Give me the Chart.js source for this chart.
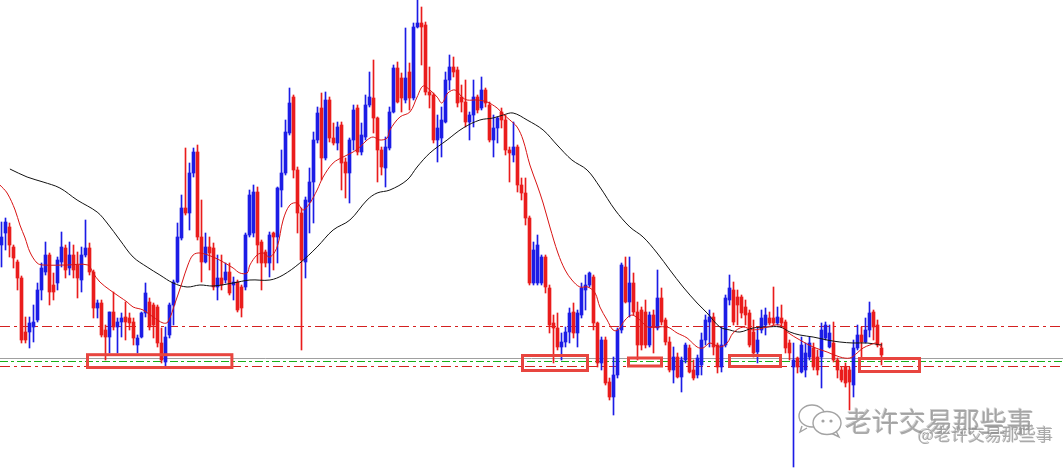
<!DOCTYPE html>
<html lang="zh">
<head>
<meta charset="UTF-8">
<title>K线图</title>
<script src="https://cdn.jsdelivr.net/npm/chart.js"></script>
<style>
    html, body { margin: 0; padding: 0; background: #fff; }
    .chart-box { position: relative; width: 1063px; height: 468px; overflow: hidden; }
    .mark {
        position: absolute;
        font-family: "Noto Sans CJK SC", sans-serif;
        line-height: 1;
        white-space: nowrap;
        color: rgba(150, 150, 150, 0.8);
        text-shadow: 1px 1px 0 rgba(255, 255, 255, 0.9), -1px -1px 0 rgba(120, 120, 120, 0.35);
    }
    .mark.big { left: 845px; top: 407px; font-size: 27px; }
    .mark.small { left: 918px; top: 425px; font-size: 17px; }
    .wx { position: absolute; left: 798px; top: 402px; }
</style>
</head>
<body>
<div class="chart-box">
    <canvas id="kline"></canvas>
    <svg class="wx" width="46" height="38" viewBox="0 0 46 38">
        <g fill="#fff" stroke="#a3a3a3" stroke-width="1.4">
            <path d="M4 24 L2 30 L9 26"/>
            <ellipse cx="14" cy="14" rx="13" ry="11"/>
            <path d="M38 29 L41 35 L33 31"/>
            <ellipse cx="29" cy="21" rx="14" ry="11.5"/>
        </g>
        <g fill="#a3a3a3">
            <circle cx="25" cy="19" r="1.6"/>
            <circle cx="33" cy="19" r="1.6"/>
        </g>
    </svg>
    <div class="mark big">老许交易那些事</div>
    <div class="mark small">@老许交易那些事</div>
</div>
<script>
// candles, one per bar, oldest first
const open = [
    223, 235, 241, 221, 206, 190, 136, 136, 141, 148,
    178, 196, 213, 183, 185, 206, 220, 200, 213, 203,
    188, 213, 220, 196, 160, 165, 138, 131, 156, 141,
    146, 151, 150, 146, 123, 131, 155, 166, 163, 161,
    125, 106, 133, 163, 186, 230, 260, 255, 295, 316,
    231, 206, 221, 220, 181, 190, 188, 196, 183, 186,
    181, 181, 233, 235, 276, 226, 216, 205, 235, 231,
    278, 295, 335, 371, 298, 255, 206, 266, 286, 328,
    360, 310, 368, 330, 325, 343, 306, 295, 328, 360,
    316, 331, 363, 370, 350, 318, 300, 320, 356, 400,
    390, 368, 396, 370, 441, 445, 443, 376, 373, 328,
    330, 346, 388, 401, 398, 371, 366, 346, 353, 371,
    360, 378, 363, 328, 340, 356, 348, 318, 313, 321,
    283, 275, 250, 185, 185, 185, 211, 180, 145, 140,
    121, 126, 136, 156, 135, 153, 178, 183, 191, 145,
    105, 128, 86, 71, 93, 138, 201, 166, 185, 156,
    158, 156, 123, 153, 140, 170, 148, 126, 98, 111,
    91, 108, 120, 98, 93, 103, 128, 146, 151, 123,
    101, 123, 168, 178, 171, 171, 161, 155, 136, 116,
    138, 143, 150, 150, 145, 150, 146, 125, 101, 110,
    96, 98, 111, 120, 111, 111, 130, 121, 125, 108,
    98, 101, 98, 83, 120, 133, 126, 138, 156, 143,
    120
];
const high = [
    246, 250, 245, 223, 208, 192, 151, 151, 163, 185,
    205, 226, 215, 195, 211, 236, 223, 226, 223, 216,
    221, 248, 225, 198, 168, 168, 143, 156, 176, 150,
    155, 166, 155, 150, 133, 156, 185, 170, 165, 163,
    140, 141, 165, 188, 245, 273, 320, 305, 320, 323,
    268, 235, 231, 225, 213, 213, 205, 205, 191, 188,
    183, 235, 278, 283, 281, 228, 218, 236, 236, 281,
    318, 348, 380, 373, 301, 260, 271, 300, 336, 361,
    375, 376, 371, 345, 346, 346, 310, 330, 363, 363,
    345, 373, 396, 408, 351, 321, 331, 361, 403, 406,
    395, 440, 405, 445, 468, 461, 446, 401, 375, 353,
    361, 396, 413, 411, 401, 383, 388, 356, 388, 373,
    391, 380, 366, 353, 351, 360, 353, 321, 346, 323,
    290, 290, 252, 226, 233, 213, 213, 183, 153, 155,
    135, 141, 160, 165, 158, 185, 193, 196, 193, 146,
    131, 131, 90, 111, 140, 205, 211, 211, 195, 166,
    161, 168, 156, 158, 198, 180, 150, 131, 121, 115,
    111, 125, 123, 108, 113, 135, 153, 158, 155, 125,
    141, 173, 193, 186, 178, 173, 168, 158, 148, 140,
    158, 160, 156, 181, 161, 163, 148, 128, 125, 111,
    131, 125, 131, 125, 118, 145, 146, 143, 146, 110,
    101, 105, 101, 128, 143, 141, 150, 166, 158, 148,
    125
];
const low = [
    201, 218, 211, 200, 178, 125, 125, 120, 126, 146,
    168, 193, 163, 168, 178, 201, 190, 193, 190, 170,
    176, 211, 193, 150, 150, 131, 108, 115, 138, 115,
    131, 128, 138, 123, 115, 130, 151, 138, 130, 121,
    105, 100, 130, 143, 185, 228, 253, 238, 291, 228,
    186, 205, 198, 178, 168, 178, 185, 173, 168, 156,
    151, 178, 231, 231, 205, 178, 201, 191, 198, 205,
    261, 293, 333, 290, 235, 118, 190, 235, 245, 325,
    288, 308, 326, 323, 318, 278, 270, 265, 318, 313,
    313, 328, 361, 335, 286, 293, 281, 318, 355, 365,
    356, 365, 358, 368, 440, 403, 373, 360, 325, 306,
    311, 345, 378, 391, 361, 356, 341, 328, 341, 355,
    358, 361, 326, 311, 325, 340, 313, 286, 306, 276,
    268, 243, 183, 183, 183, 183, 175, 135, 105, 118,
    108, 121, 125, 130, 121, 150, 158, 181, 138, 101,
    98, 83, 68, 53, 90, 135, 165, 151, 153, 108,
    118, 120, 121, 115, 138, 143, 123, 96, 85, 90,
    76, 105, 95, 88, 90, 93, 123, 121, 113, 95,
    96, 121, 163, 143, 143, 150, 143, 121, 111, 105,
    135, 133, 143, 143, 143, 141, 115, 108, 1, 95,
    95, 91, 108, 98, 93, 80, 128, 120, 106, 90,
    86, 81, 58, 71, 118, 110, 125, 131, 128, 121,
    103
];
const close = [
    231, 246, 223, 210, 190, 128, 128, 145, 146, 178,
    200, 213, 176, 176, 208, 221, 198, 213, 198, 190,
    213, 220, 196, 160, 165, 133, 131, 156, 141, 146,
    150, 146, 145, 130, 130, 155, 175, 141, 143, 125,
    108, 131, 163, 186, 231, 260, 255, 295, 316, 231,
    206, 221, 215, 181, 190, 183, 196, 175, 186, 158,
    160, 233, 273, 276, 223, 205, 205, 233, 231, 280,
    295, 336, 365, 298, 255, 208, 268, 286, 328, 355,
    310, 368, 330, 325, 341, 305, 295, 328, 358, 316,
    333, 363, 371, 350, 318, 301, 321, 356, 400, 366,
    370, 390, 370, 441, 445, 441, 376, 373, 328, 340,
    348, 388, 401, 396, 365, 366, 346, 353, 371, 358,
    378, 365, 328, 340, 350, 348, 318, 315, 321, 283,
    275, 250, 185, 218, 223, 211, 181, 143, 140, 121,
    126, 136, 155, 135, 155, 180, 183, 195, 145, 105,
    128, 85, 71, 93, 138, 203, 166, 185, 156, 123,
    123, 123, 153, 141, 170, 146, 126, 98, 111, 91,
    108, 123, 96, 90, 110, 128, 148, 151, 121, 101,
    123, 170, 180, 146, 163, 155, 153, 123, 115, 128,
    150, 153, 145, 145, 151, 145, 120, 115, 108, 101,
    123, 115, 125, 101, 98, 138, 143, 135, 108, 98,
    88, 85, 86, 120, 133, 126, 138, 155, 141, 123,
    113
];

// moving averages (candle position, level)
const fastMaAt = [
    -0.4, 1.4, 3.4, 4.6, 5.9, 7.1, 8.9, 10.4, 16.4, 21.6,
    22.9, 24.6, 27.1, 29.6, 31.4, 32.9, 35.4, 37.9, 40.4, 41.6,
    43.4, 45.1, 46.6, 47.9, 49.6, 52.9, 55.4, 57.9, 59.6, 61.4,
    62.1, 63.9, 65.4, 67.1, 68.9, 70.4, 72.1, 73.9, 75.4, 77.1,
    78.9, 80.4, 82.9, 85.4, 87.9, 89.6, 91.4, 92.9, 94.6, 96.4,
    97.1, 99.6, 102.1, 103.9, 105.4, 107.1, 108.9, 110.1, 111.6, 113.4,
    115.1, 116.4, 118.9, 121.4, 123.9, 125.4, 127.1, 128.9, 130.4, 132.1,
    133.9, 135.4, 137.1, 139.1, 140.9, 142.6, 144.6, 146.6, 148.4, 149.6,
    151.4, 152.9, 154.1, 155.9, 157.6, 159.6, 161.6, 166.4, 168.9, 171.4,
    173.9, 175.4, 177.1, 179.6, 181.4, 182.9, 185.4, 187.9, 191.4, 194.6,
    196.4, 199.6, 202.9, 206.4, 209.6, 212.1, 213.9, 215.4, 217.1, 218.9,
    220.1
];
const fastMa = [
    283, 275, 258, 243, 230, 216, 205, 203, 203, 203,
    195, 186, 178, 171, 166, 161, 158, 151, 145, 146,
    165, 185, 203, 213, 215, 211, 206, 200, 195, 195,
    203, 213, 215, 211, 221, 248, 263, 265, 258, 265,
    278, 291, 305, 311, 316, 321, 328, 331, 328, 330,
    338, 351, 356, 371, 382, 378, 371, 365, 375, 378,
    371, 368, 368, 366, 360, 354, 348, 341, 328, 303,
    283, 265, 241, 215, 198, 188, 181, 181, 175, 161,
    148, 138, 138, 148, 153, 148, 141, 141, 135, 130,
    121, 120, 125, 121, 125, 135, 141, 138, 141, 143,
    136, 128, 121, 116, 111, 110, 115, 120, 123, 125,
    120
];
const slowMaAt = [
    2.1, 6.4, 10.4, 14.6, 18.9, 23.9, 26.4, 29.6, 32.9, 36.4,
    39.6, 42.9, 46.4, 49.6, 52.9, 57.9, 62.1, 67.1, 70.4, 74.6,
    78.9, 82.9, 87.1, 91.4, 93.9, 97.1, 101.4, 103.9, 107.1, 111.4,
    115.4, 119.6, 122.9, 125.4, 127.9, 131.4, 135.4, 138.9, 142.6, 146.4,
    149.6, 153.4, 157.1, 160.4, 163.9, 167.1, 170.4, 173.9, 176.4, 179.6,
    182.1, 184.6, 187.9, 191.4, 194.6, 197.1, 199.6, 202.9, 206.4, 209.6,
    212.9, 216.4, 220.1
];
const slowMa = [
    299, 291, 286, 280, 268, 256, 245, 228, 211, 201,
    193, 185, 181, 183, 182, 185, 188, 188, 193, 205,
    221, 238, 248, 268, 275, 278, 288, 301, 315, 328,
    340, 348, 350, 353, 355, 348, 338, 323, 308, 298,
    281, 258, 241, 231, 215, 198, 181, 165, 155, 141,
    138, 136, 140, 141, 141, 136, 133, 131, 128, 126,
    125, 125, 123
];

// horizontal levels: upper red, grey, green, lower red
const levels = [141.5, 109.5, 106.5, 101.5];

// boxes drawn round the support zone
const zoneFrom = [21.5, 130.25, 156.75, 182, 214.5];
const zoneTo = [57.6, 146.5, 165, 194.75, 229.5];
const zoneHigh = [113.3, 112.5, 110, 112.5, 109.5];
const zoneLow = [100.5, 97.5, 102, 101.5, 96.5];

const xMin = -0.375;
const xMax = 265.375;

const upColor = '#1c1ce6';
const downColor = '#ea1c1c';
const candleColors = open.map((o, i) => close[i] >= o ? upColor : downColor);

const levelStyles = [
    { color: '#d42020', dash: [10, 4, 3, 4] },
    { color: '#a0a0a0', dash: [] },
    { color: '#18b018', dash: [8, 3, 3, 3] },
    { color: '#d42020', dash: [10, 4, 3, 4] }
];

const levelSets = levels.map((v, k) => ({
    type: 'line',
    data: [{ x: xMin, y: v }, { x: xMax, y: v }],
    borderColor: levelStyles[k].color,
    borderDash: levelStyles[k].dash,
    borderWidth: 1,
    pointRadius: 0,
    order: 10
}));

const zonePlugin = {
    id: 'zones',
    afterDatasetsDraw(chart) {
        const { ctx, scales: { x, y } } = chart;
        ctx.save();
        ctx.strokeStyle = '#e8453f';
        ctx.lineWidth = 3;
        zoneFrom.forEach((from, k) => {
            const left = x.getPixelForValue(from);
            const right = x.getPixelForValue(zoneTo[k]);
            const top = y.getPixelForValue(zoneHigh[k]);
            const bottom = y.getPixelForValue(zoneLow[k]);
            ctx.strokeRect(left, top, right - left, bottom - top);
        });
        ctx.restore();
    }
};

new Chart(document.getElementById('kline'), {
    type: 'bar',
    data: {
        datasets: [
            ...levelSets,
            {
                label: 'wick',
                data: open.map((o, i) => ({ x: i, y: [low[i], high[i]] })),
                backgroundColor: candleColors,
                barThickness: 1,
                grouped: false,
                order: 3
            },
            {
                label: 'body',
                data: open.map((o, i) => ({ x: i, y: [o, close[i]] })),
                backgroundColor: candleColors,
                barThickness: 3,
                minBarLength: 1,
                grouped: false,
                order: 2
            },
            {
                type: 'line',
                data: fastMaAt.map((x, k) => ({ x: x, y: fastMa[k] })),
                borderColor: '#d81414',
                borderWidth: 1,
                pointRadius: 0,
                tension: 0.35,
                order: 1
            },
            {
                type: 'line',
                data: slowMaAt.map((x, k) => ({ x: x, y: slowMa[k] })),
                borderColor: '#111',
                borderWidth: 1,
                pointRadius: 0,
                tension: 0.35,
                order: 1
            }
        ]
    },
    options: {
        responsive: true,
        maintainAspectRatio: false,
        devicePixelRatio: 1,
        animation: false,
        layout: { padding: 0 },
        plugins: { legend: { display: false }, tooltip: { enabled: false } },
        scales: {
            x: { type: 'linear', display: false, offset: false, min: xMin, max: xMax },
            y: { display: false, min: 0, max: 468 }
        }
    },
    plugins: [zonePlugin]
});
</script>
</body>
</html>
